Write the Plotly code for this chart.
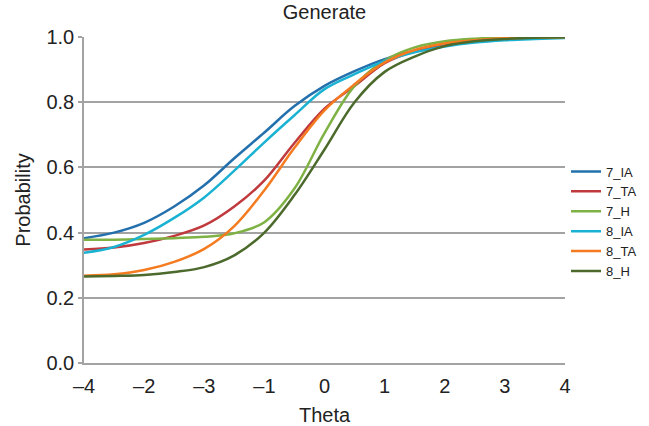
import plotly.graph_objects as go

theta = [-4, -3.5, -3, -2.5, -2, -1.5, -1, -0.5, 0, 0.5, 1, 1.5, 2, 2.5, 3, 3.5, 4]
x_tick_vals = [-4, -3, -2, -1, 0, 1, 2, 3, 4]
x_tick_text = ["–4", "–2", "–3", "–1", "0", "1", "2", "3", "4"]
y_tick_vals = [0.0, 0.2, 0.4, 0.6, 0.8, 1.0]

p_7_IA = [0.383, 0.400, 0.430, 0.480, 0.545, 0.628, 0.707, 0.788, 0.850, 0.895, 0.932, 0.958, 0.975, 0.987, 0.994, 0.997, 0.999]
p_7_TA = [0.348, 0.354, 0.368, 0.390, 0.422, 0.480, 0.560, 0.675, 0.780, 0.850, 0.920, 0.957, 0.979, 0.990, 0.996, 0.998, 0.999]
p_7_H = [0.378, 0.378, 0.380, 0.383, 0.387, 0.398, 0.432, 0.535, 0.705, 0.850, 0.928, 0.968, 0.987, 0.995, 0.998, 0.999, 1.000]
p_8_IA = [0.338, 0.356, 0.393, 0.445, 0.508, 0.590, 0.677, 0.760, 0.840, 0.886, 0.926, 0.953, 0.971, 0.983, 0.990, 0.994, 0.997]
p_8_TA = [0.268, 0.272, 0.285, 0.310, 0.350, 0.420, 0.530, 0.660, 0.775, 0.855, 0.922, 0.960, 0.980, 0.990, 0.996, 0.998, 0.999]
p_8_H = [0.265, 0.267, 0.270, 0.279, 0.294, 0.330, 0.400, 0.515, 0.655, 0.800, 0.893, 0.940, 0.972, 0.987, 0.994, 0.998, 0.999]

series_names = ["7_IA", "7_TA", "7_H", "8_IA", "8_TA", "8_H"]
series_values = [p_7_IA, p_7_TA, p_7_H, p_8_IA, p_8_TA, p_8_H]
series_colors = ["#2370ad", "#c0393c", "#7fb244", "#1ab2d2", "#f47b20", "#4b6a2c"]

FONT = "Liberation Sans, Arial, Helvetica, sans-serif"
GRID = "#a3a3a3"
TXT = "#222222"

fig = go.Figure()
for name, vals, col in zip(series_names, series_values, series_colors):
    fig.add_trace(go.Scatter(
        x=theta, y=vals, name=name, mode="lines",
        line=dict(color=col, width=2.5, shape="spline", smoothing=1.0),
    ))

fig.update_layout(
    width=649, height=426,
    margin=dict(l=84, r=84, t=37, b=63, autoexpand=False),
    paper_bgcolor="white", plot_bgcolor="white",
    font=dict(family=FONT, color=TXT),
    title=dict(text="Generate", x=(84 + 565) / 2 / 649, xanchor="center",
               y=1 - 12 / 426, yanchor="middle", yref="container",
               font=dict(size=20, family=FONT, color=TXT)),
    legend=dict(xref="container", yref="container", x=566 / 649, xanchor="left",
                y=1 - 221.5 / 426, yanchor="middle",
                font=dict(size=13, family=FONT, color=TXT),
                bgcolor="rgba(0,0,0,0)", borderwidth=0),
    showlegend=True,
)
fig.update_xaxes(
    range=[-4, 4], tickmode="array", tickvals=x_tick_vals, ticktext=x_tick_text,
    showgrid=False, zeroline=False, showline=True, linecolor=GRID, linewidth=1.5,
    ticks="", ticklabelstandoff=4, tickfont=dict(size=20, family=FONT, color=TXT),
    title=dict(text="Theta", font=dict(size=20, family=FONT, color=TXT), standoff=14),
)
fig.update_yaxes(
    range=[0, 1], tickmode="array", tickvals=y_tick_vals, tickformat=".1f",
    showgrid=True, gridcolor=GRID, gridwidth=1.5, zeroline=False,
    showline=True, linecolor=GRID, linewidth=1.5,
    ticks="outside", ticklen=4, tickcolor=GRID, tickwidth=1.5,
    tickfont=dict(size=20, family=FONT, color=TXT),
    title=dict(text="Probability", font=dict(size=20, family=FONT, color=TXT), standoff=10),
)

fig.write_html("out.html")
